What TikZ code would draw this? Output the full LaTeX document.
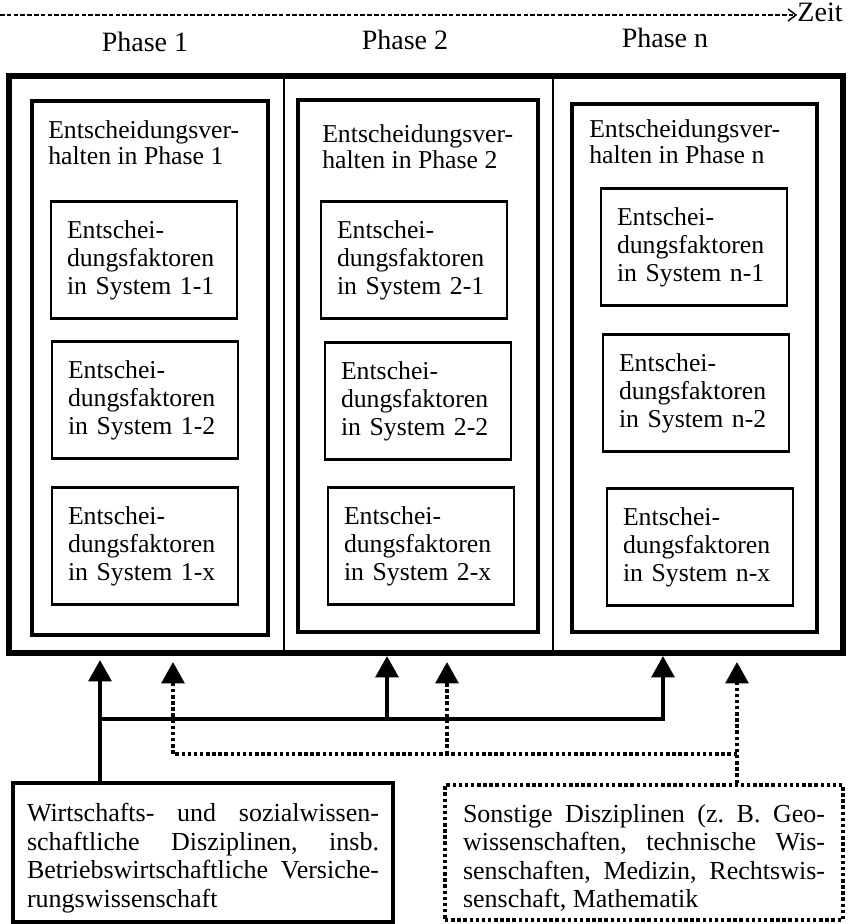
\documentclass[tikz,border=0pt]{standalone}
\usepackage{fontspec}
\setmainfont{Liberation Serif}
\usetikzlibrary{arrows.meta,calc}
\begin{document}
\frenchspacing
\begin{tikzpicture}[x=0.75pt,y=-0.75pt,
  lbl/.style={inner sep=0pt,font=\fontsize{21}{24}\selectfont},
  outerframe/.style={draw,line width=4.5pt,minimum width=625.5pt,minimum height=432.75pt,inner sep=0pt},
  phasebox/.style={draw,line width=3.6pt,inner sep=0pt},
  titletext/.style={inner sep=0pt,align=left,anchor=north west,font=\fontsize{19.3}{19.5}\selectfont},
  subbox/.style={draw,line width=2.2pt,inner xsep=12pt,text width=115.5pt,minimum height=87.75pt,align=left,font=\fontsize{19.3}{21}\selectfont},
  divider/.style={line width=1.4pt},
  bottombox/.style={line width=3pt,align=justify,font=\fontsize{19.5}{21.4}\selectfont},
  solidc/.style={line width=3pt},
  dotc/.style={line width=3pt,dash pattern=on 2.6pt off 2pt},
  tipc/.style={-{Triangle[width=17pt,length=16pt]}},
  timeline/.style={line width=1.1pt,dash pattern=on 3.5pt off 1.6pt,-{Straight Barb[length=6pt,width=9pt]}}
]
\useasboundingbox (0,0) rectangle (847,924);

% time axis
\node[lbl] (zeit) at (820,12) {Zeit};
\coordinate (tstart) at (0,15);
\draw[timeline] (tstart) -- (zeit.west |- tstart);

\node[lbl] (ph1) at (145,42) {Phase 1};
\node[lbl] (ph2) at (405,40) {Phase 2};
\node[lbl] (phn) at (665,38) {Phase n};

% outer frame and dividers
\node[outerframe] (outer) at (426,364.5) {};
\coordinate (dv1t) at (284,76); \coordinate (dv1b) at (284,653);
\coordinate (dv2t) at (553,76); \coordinate (dv2b) at (553,653);
\draw[divider] (dv1t) -- (dv1b);
\draw[divider] (dv2t) -- (dv2b);

% phase boxes
\node[phasebox,minimum width=177pt,minimum height=400.5pt] (p1) at (150,368) {};
\node[phasebox,minimum width=180pt,minimum height=399pt] (p2) at (418,366) {};
\node[phasebox,minimum width=183.75pt,minimum height=396pt] (pn) at (694.5,368) {};

\node[titletext] (t1) at (48,120) {Entscheidungsver-\\halten in Phase 1};
\node[titletext] (t2) at (322,124) {Entscheidungsver-\\halten in Phase 2};
\node[titletext] (tn) at (589,119) {Entscheidungsver-\\halten in Phase n};

% sub boxes
\node[subbox] (s11) at (144,260) {Entschei-\\dungsfaktoren\\in System 1-1};
\node[subbox] (s12) at (145,400) {Entschei-\\dungsfaktoren\\in System 1-2};
\node[subbox] (s1x) at (145,546) {Entschei-\\dungsfaktoren\\in System 1-x};
\node[subbox] (s21) at (414,260) {Entschei-\\dungsfaktoren\\in System 2-1};
\node[subbox] (s22) at (418,401) {Entschei-\\dungsfaktoren\\in System 2-2};
\node[subbox] (s2x) at (421,546) {Entschei-\\dungsfaktoren\\in System 2-x};
\node[subbox] (sn1) at (694,247) {Entschei-\\dungsfaktoren\\in System n-1};
\node[subbox] (sn2) at (696,393) {Entschei-\\dungsfaktoren\\in System n-2};
\node[subbox] (snx) at (700,547) {Entschei-\\dungsfaktoren\\in System n-x};

% bottom boxes
\node[bottombox,draw,inner xsep=10.5pt,text width=264pt,minimum height=104.25pt] (wiso) at (203,852.5)
 {\rule{0pt}{22pt}Wirtschafts- und sozialwissen-\linebreak schaftliche Disziplinen, insb.\linebreak Betriebswirtschaftliche Versiche-\linebreak rungswissenschaft};
\node[bottombox,draw,dotc,inner xsep=13.5pt,text width=271.5pt,minimum height=101.25pt] (sonst) at (644,852.5)
 {\rule{0pt}{22pt}Sonstige Disziplinen (z. B. Geo-\linebreak wissenschaften, technische Wis-\linebreak senschaften, Medizin, Rechtswis-\linebreak senschaft, Mathematik};

% connector coordinates
\coordinate (a1) at (100,660);
\coordinate (a2) at (387,656);
\coordinate (a3) at (663,656);
\coordinate (j1) at (100,719);
\coordinate (j2) at (387,719);
\coordinate (j3) at (663,719);
\coordinate (d1) at (173,662);
\coordinate (d2) at (447,662);
\coordinate (d3) at (737,662);
\coordinate (k1) at (173,754);
\coordinate (k2) at (447,754);
\coordinate (k3) at (737,754);

% solid connectors
\draw[solidc,tipc] (wiso.north -| a1) -- (a1);
\draw[solidc,tipc,line join=miter] (j1) -- (j3) -- (a3);
\draw[solidc,tipc] (j2) -- (a2);

% dotted connectors
\draw[dotc,tipc] (sonst.north -| d3) -- (d3);
\draw[dotc,tipc,line join=miter] (k3) -- (k1) -- (d1);
\draw[dotc,tipc] (k2) -- (d2);
\end{tikzpicture}
\end{document}
